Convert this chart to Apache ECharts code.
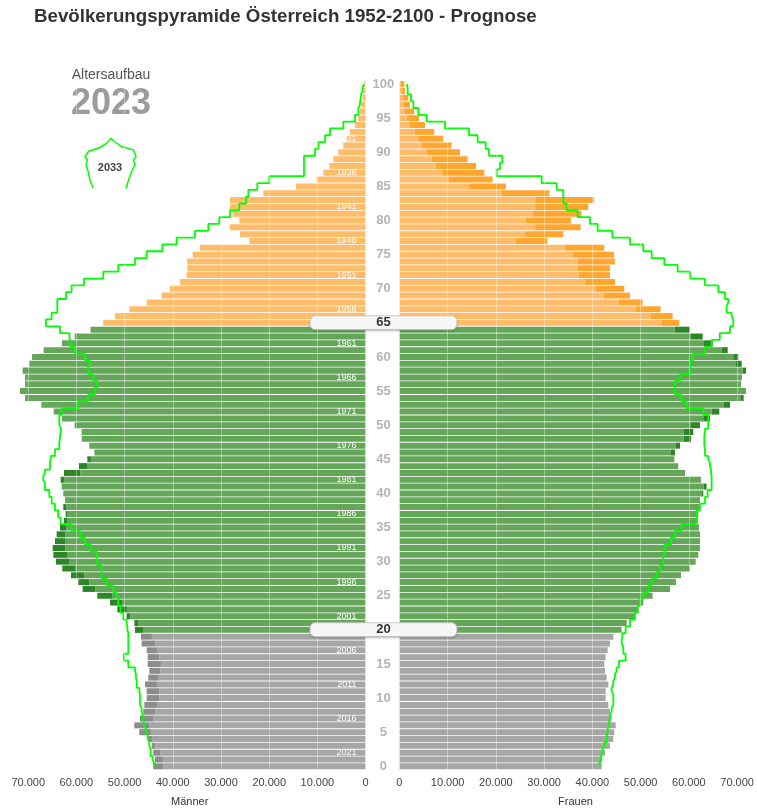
<!DOCTYPE html>
<html>
<head>
<meta charset="utf-8">
<title>Bevölkerungspyramide Österreich</title>
<script src="https://cdn.jsdelivr.net/npm/echarts@6/dist/echarts.min.js"></script>
<style>
  html, body { margin: 0; padding: 0; background: #fff; }
  #pyramid { width: 757px; height: 809px; }
</style>
</head>
<body>
<div id="pyramid"></div>
<script>
  // Altersjahre 0..100, Index = Alter
  const ages = Array.from({ length: 101 }, (_, i) => String(i))
  const baseYear = 2023

  // Männer 2023, Alter 0 -> 100
  const men2023 = [
    44040, 43700, 44040, 44390, 45080, 46950, 47980, 46810, 46120, 45910,
    45420, 45420, 45770, 45080, 44870, 45220, 45220, 45420, 46460, 46600,
    47850, 47980, 49580, 51510, 53030, 55660, 58710, 59600, 61130, 62930,
    64240, 64790, 64930, 64450, 64100, 63410, 62580, 62230, 62720, 62370,
    62720, 63060, 63270, 62580, 59470, 57740, 56280, 57320, 58910, 58910,
    60370, 62990, 64720, 67270, 70660, 71710, 70670, 70670, 71150, 69760,
    69200, 66800, 62990, 60370, 57070, 54420, 52000, 49020, 45420, 42310,
    40580, 38510, 37130, 36990, 36990, 35880, 34360, 24120, 26060, 28140,
    26200, 27580, 28140, 28140, 21220, 14440, 10150, 8770, 7520, 6690,
    5660, 4620, 3930, 3230, 2200, 1500, 1160, 950, 600, 470,
    300
  ]
  // Frauen 2023, Alter 0 -> 100
  const women2023 = [
    41920, 42060, 42610, 43640, 44330, 44540, 44820, 43990, 43640, 43300,
    42750, 42750, 43300, 42950, 42610, 42470, 42750, 43160, 43640, 44330,
    46060, 47100, 48820, 49520, 50550, 52490, 56080, 57320, 58360, 60220,
    61400, 61950, 62290, 62290, 62290, 62090, 61810, 61950, 62090, 62290,
    62980, 63680, 62500, 59190, 57800, 56980, 57110, 58150, 60430, 60910,
    62290, 64370, 66310, 68520, 71350, 71830, 70800, 70940, 71830, 70940,
    70240, 68040, 64930, 62860, 60180, 58010, 56630, 54140, 50410, 47790,
    46610, 44680, 43640, 43640, 44680, 44470, 42470, 30660, 33970, 37560,
    35560, 37770, 39150, 40330, 31070, 22090, 19330, 17600, 15870, 14150,
    12560, 10830, 9100, 7240, 5300, 4060, 3090, 2200, 1850, 1160,
    1020
  ]
  // Prognose 2033 Männer, Alter 0 -> 100
  const men2033 = [
    43900, 44180, 44600, 44870, 45220, 45570, 45980, 46260, 46460, 46810,
    46810, 46950, 47500, 47640, 47850, 49230, 50130, 49230, 49230, 49230,
    49440, 49580, 50270, 50820, 51300, 51650, 52340, 53720, 54760, 54760,
    55800, 55800, 57050, 58220, 59260, 60990, 63270, 63760, 64450, 65140,
    65620, 66520, 66870, 66520, 65480, 65350, 64450, 63550, 63410, 63200,
    63550, 63550, 63060, 59600, 57530, 56150, 55660, 56490, 57530, 57180,
    58220, 60300, 61330, 61470, 63410, 66310, 65140, 63960, 63960, 62170,
    60990, 58430, 54420, 51300, 47850, 45430, 42170, 39200, 35400, 32630,
    30350, 28130, 26200, 24810, 24330, 22460, 19970, 12780, 12780, 12780,
    10490, 9800, 8420, 7380, 4620, 2190, 1500, 1160, 950, 600,
    330
  ]
  // Prognose 2033 Frauen, Alter 0 -> 100
  const women2033 = [
    41500, 41780, 42060, 42470, 42950, 43160, 43440, 43640, 43990, 44330,
    44330, 43990, 44330, 44680, 45030, 45510, 46890, 46410, 46060, 46200,
    46890, 47790, 48820, 49380, 49860, 50550, 51590, 52280, 53310, 54000,
    54690, 54900, 55040, 56280, 57110, 58500, 61600, 61600, 62290, 63330,
    63880, 64710, 64710, 64580, 64370, 64020, 63330, 63190, 63190, 63330,
    64000, 64020, 62990, 59530, 58500, 57110, 57110, 58150, 60220, 60220,
    60910, 63330, 64710, 66400, 68500, 69200, 68860, 67820, 68170, 67480,
    66100, 63330, 60220, 57670, 54900, 52280, 50550, 47790, 44130, 41090,
    39500, 36940, 34660, 33970, 33970, 32590, 29480, 20160, 20850, 21330,
    18570, 17880, 16220, 14420, 9450, 5650, 3920, 2890, 2400, 1710,
    1500
  ]
  const xTicks = [0, 10000, 20000, 30000, 40000, 50000, 60000, 70000]
  const markedAges = [20, 65]

  const lightColor = { old: '#FFBC6A', work: '#65A65B', young: '#A6A6A6' }
  const darkColor = { old: '#FFA631', work: '#2E8527', young: '#8C8C8C' }
  function group(age) {
    return age >= 65 ? 'old' : (age >= 20 ? 'work' : 'young')
  }

  // gemeinsamer Teil hell, Überschuss des jeweiligen Geschlechts dunkel
  let menLight = [], menDark = [], womenLight = [], womenDark = []
  for (let i = 0; i < ages.length; i++) {
    let common = Math.min(men2023[i], women2023[i])
    menLight.push(common)
    womenLight.push(common)
    menDark.push(men2023[i] - common)
    womenDark.push(women2023[i] - common)
  }

  function fmt(v) {
    return String(v).replace(/\B(?=(\d{3})+(?!\d))/g, '.')
  }

  const font = 'Liberation Sans, Arial, sans-serif'
  const xMax = 73000

  function valueAxis(idx, name) {
    return {
      type: 'value',
      gridIndex: idx,
      inverse: idx === 0,
      min: 0,
      max: xMax,
      interval: 10000,
      z: 10,
      name: name,
      nameLocation: 'middle',
      nameGap: 27,
      nameTextStyle: { color: '#333', fontSize: 11, fontFamily: font },
      axisLine: { show: false },
      axisTick: { show: false },
      axisLabel: {
        color: '#444', fontSize: 11, fontFamily: font, margin: 8,
        showMaxLabel: false,
        formatter: v => xTicks.indexOf(v) >= 0 ? fmt(v) : ''
      },
      splitLine: { show: true, lineStyle: { color: 'rgba(255,255,255,0.38)', width: 1 } }
    }
  }

  let ageRich = {
    n: { color: '#b4b4b4', fontSize: 13, fontWeight: 'bold', fontFamily: font },
    sel: {
      color: '#333', fontSize: 13, fontWeight: 'bold', fontFamily: font,
      width: 146, height: 13, align: 'center',
      backgroundColor: '#f6f6f6', borderColor: '#cccccc', borderWidth: 1, borderRadius: 5,
      shadowColor: 'rgba(0,0,0,0.18)', shadowBlur: 2, shadowOffsetY: 1
    }
  }

  function barSeries(name, axis, stack, data, colors) {
    return {
      name: name,
      type: 'bar',
      xAxisIndex: axis,
      yAxisIndex: axis,
      stack: stack,
      barCategoryGap: '12%',
      data: data,
      itemStyle: { color: p => colors[group(p.dataIndex)] },
      z: 2
    }
  }

  function lineSeries(name, axis, data) {
    return {
      name: name,
      type: 'line',
      xAxisIndex: axis,
      yAxisIndex: axis,
      step: 'middle',
      symbol: 'none',
      data: data.map((v, i) => [v, i]),
      lineStyle: { color: '#00FF00', width: 1.8 },
      z: 4
    }
  }

  let chart = echarts.init(document.getElementById('pyramid'))
  chart.setOption({
    animation: false,
    textStyle: { fontFamily: font },
    title: {
      text: 'Bevölkerungspyramide Österreich 1952-2100 - Prognose',
      left: 34,
      top: 7,
      padding: 0,
      textStyle: { fontSize: 18.7, fontWeight: 'bold', color: '#333', fontFamily: font }
    },
    grid: [
      { left: 365.6 - xMax * 0.00482, width: xMax * 0.00482, top: 80.7, height: 689, outerBoundsMode: 'none' },
      { left: 399.4, width: xMax * 0.004825, top: 80.7, height: 689, outerBoundsMode: 'none' }
    ],
    xAxis: [valueAxis(0, 'Männer'), valueAxis(1, 'Frauen')],
    yAxis: [
      {
        type: 'category',
        gridIndex: 0,
        data: ages,
        position: 'right',
        z: 10,
        axisLine: { show: false },
        axisTick: { show: false },
        axisLabel: {
          inside: true,
          margin: 9,
          color: '#fff',
          fontSize: 9,
          fontFamily: font,
          interval: (i) => i % 5 === 2,
          formatter: v => String(baseYear - Number(v))
        }
      },
      {
        type: 'category',
        gridIndex: 1,
        data: ages,
        position: 'left',
        z: 12,
        axisLine: { show: false },
        axisTick: { show: false },
        axisLabel: {
          margin: 16,
          align: 'center',
          interval: (i) => i % 5 === 0,
          formatter: v => markedAges.indexOf(Number(v)) >= 0 ? '{sel|' + v + '}' : '{n|' + v + '}',
          rich: ageRich
        }
      }
    ],
    graphic: [
      {
        type: 'text', x: 111, y: 75,
        style: { text: 'Altersaufbau', align: 'center', verticalAlign: 'middle',
          fill: '#555', font: '14px ' + font }
      },
      {
        type: 'text', x: 111, y: 104,
        style: { text: String(baseYear), align: 'center', verticalAlign: 'middle',
          fill: '#9b9b9b', font: 'bold 36px ' + font }
      },
      {
        type: 'polyline', z: 5,
        shape: { points: [
          [93, 188], [90, 180], [88, 171], [86, 165], [87.5, 160], [85, 156.5], [88.5, 151.5],
          [100, 147.5], [106.5, 143.5], [111, 138.5], [115, 142], [121.5, 146.5], [133.5, 150],
          [136, 156.5], [133.5, 160], [135, 165], [131.5, 172], [128.5, 180], [126, 188.5]
        ] },
        style: { stroke: '#00FF00', lineWidth: 1.5, fill: null }
      },
      {
        type: 'text', x: 110, y: 168,
        style: { text: '2033', align: 'center', verticalAlign: 'middle',
          fill: '#444', font: 'bold 11px ' + font }
      }
    ],
    series: [
      barSeries('Männer', 0, 'm', menLight, lightColor),
      barSeries('Männerüberschuss', 0, 'm', menDark, darkColor),
      barSeries('Frauen', 1, 'w', womenLight, lightColor),
      barSeries('Frauenüberschuss', 1, 'w', womenDark, darkColor),
      lineSeries('Männer 2033', 0, men2033),
      lineSeries('Frauen 2033', 1, women2033)
    ]
  })
</script>
</body>
</html>
